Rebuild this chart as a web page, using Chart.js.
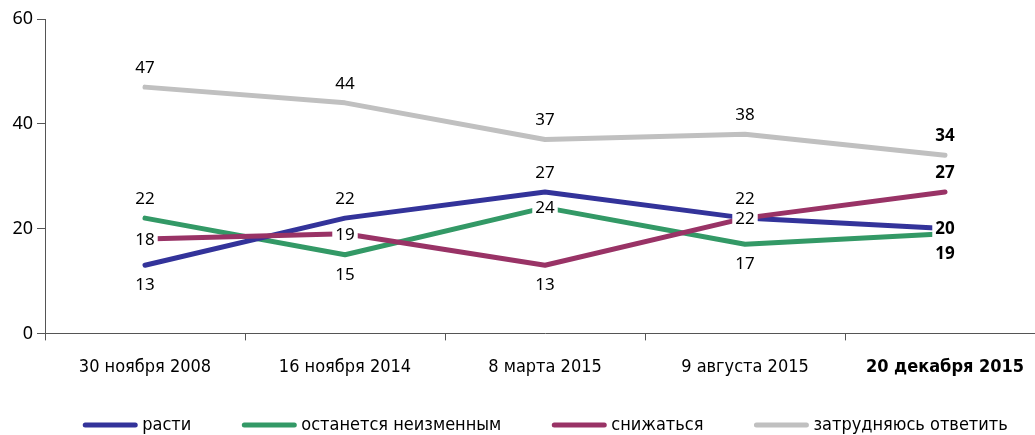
<!DOCTYPE html>
<html>
<head>
<meta charset="utf-8">
<script src="https://cdn.jsdelivr.net/npm/chart.js@4.4.1/dist/chart.umd.min.js"></script>
<style>
    html, body { margin: 0; padding: 0; background: #fff; overflow: hidden; }
    #wrap { width: 1045px; height: 435px; }
</style>
</head>
<body>
<div id="wrap"><canvas id="chart"></canvas></div>
<script>
const dates = ['30 ноября 2008', '16 ноября 2014', '8 марта 2015', '9 августа 2015', '20 декабря 2015'];
const seriesNames = ['расти', 'останется неизменным', 'снижаться', 'затрудняюсь ответить'];
const grow = [13, 22, 27, 22, 20];
const same = [22, 15, 24, 17, 19];
const fall = [18, 19, 13, 22, 27];
const unsure = [47, 44, 37, 38, 34];
const yTicks = [0, 20, 40, 60];

const colors = ['#33339a', '#339966', '#993366', '#c0c0c0'];
// where each value label sits relative to its point
const placements = [
    ['below', 'above', 'above', 'above', 'center'],
    ['above', 'below', 'center', 'below', 'below'],
    ['center', 'center', 'below', 'center', 'above'],
    ['above', 'above', 'above', 'above', 'above']
];
const drawOrder = [1, 2, 0, 3];

const narrow = '"Liberation Sans Narrow", "DejaVu Sans Condensed", sans-serif';
const numFont = '"Noto Sans", sans-serif';

const labelPlugin = {
    id: 'valueLabels',
    afterDatasetsDraw(chart) {
        const ctx = chart.ctx;
        const last = dates.length - 1;
        // centred labels first (they blank out the line under them), then the rest
        ['center', 'other'].forEach(pass => {
            chart.data.datasets.forEach((ds, i) => {
                const meta = chart.getDatasetMeta(i);
                meta.data.forEach((pt, j) => {
                    const pos = placements[i][j];
                    if ((pass === 'center') !== (pos === 'center')) return;
                    let x = pt.x, y = pt.y;
                    if (pos === 'above') y -= 20;
                    if (pos === 'below') y += 19;
                    const txt = String(ds.data[j]);
                    ctx.save();
                    ctx.font = (j === last ? 'bold ' : '') + '17px ' + numFont;
                    ctx.textAlign = 'center';
                    ctx.textBaseline = 'middle';
                    if (pos === 'center') {
                        const w = ctx.measureText(txt).width;
                        ctx.fillStyle = '#fff';
                        ctx.fillRect(x - w / 2 - 3, y - 9, w + 6, 18);
                    }
                    ctx.fillStyle = '#000';
                    ctx.fillText(txt, x, y + 1);
                    ctx.restore();
                });
            });
        });
    }
};

const legendPlugin = {
    id: 'lineLegend',
    afterDraw(chart) {
        const ctx = chart.ctx;
        const area = chart.chartArea;
        const boxW = 56, boxGap = 4, itemGap = 50, y = 425;
        ctx.save();
        ctx.font = '18px ' + narrow;
        const widths = chart.data.datasets.map(ds => ctx.measureText(ds.label).width);
        const total = widths.reduce((s, w) => s + boxW + boxGap + w, 0) + itemGap * (widths.length - 1);
        let x = (area.left + area.right) / 2 - total / 2;
        chart.data.datasets.forEach((ds, i) => {
            ctx.strokeStyle = ds.borderColor;
            ctx.lineWidth = 5;
            ctx.lineCap = 'round';
            ctx.beginPath();
            ctx.moveTo(x + 3, y);
            ctx.lineTo(x + boxW - 3, y);
            ctx.stroke();
            ctx.fillStyle = '#000';
            ctx.textBaseline = 'middle';
            ctx.textAlign = 'left';
            ctx.fillText(ds.label, x + boxW + boxGap, y);
            x += boxW + boxGap + widths[i] + itemGap;
        });
        ctx.restore();
    }
};

const allSeries = [grow, same, fall, unsure];

new Chart(document.getElementById('chart'), {
    type: 'line',
    data: {
        labels: dates,
        datasets: allSeries.map((values, i) => ({
            label: seriesNames[i],
            data: values,
            borderColor: colors[i],
            backgroundColor: colors[i],
            borderWidth: 5,
            borderCapStyle: 'round',
            borderJoinStyle: 'round',
            pointRadius: 0,
            tension: 0,
            fill: false,
            order: drawOrder[i]
        }))
    },
    options: {
        responsive: true,
        maintainAspectRatio: false,
        animation: false,
        layout: { padding: { top: 19, right: 0, bottom: 41, left: 0 } },
        plugins: {
            legend: { display: false },
            tooltip: { enabled: false }
        },
        scales: {
            x: {
                offset: true,
                grid: { offset: true, drawOnChartArea: false, tickLength: 7, color: '#555', lineWidth: 1 },
                border: { color: '#555', width: 1 },
                ticks: {
                    color: '#000',
                    padding: 16,
                    maxRotation: 0,
                    font: c => ({ family: narrow, size: 18, weight: c.index === dates.length - 1 ? 'bold' : 'normal' })
                }
            },
            y: {
                min: 0,
                max: 60,
                afterBuildTicks: s => { s.ticks = yTicks.map(v => ({ value: v })); },
                afterFit: s => { s.width = 45; },
                grid: { drawOnChartArea: false, tickLength: 8, color: '#555', lineWidth: 1 },
                border: { color: '#555', width: 1 },
                ticks: { color: '#000', padding: 4, font: { family: numFont, size: 18 } }
            }
        }
    },
    plugins: [labelPlugin, legendPlugin]
});
</script>
</body>
</html>
